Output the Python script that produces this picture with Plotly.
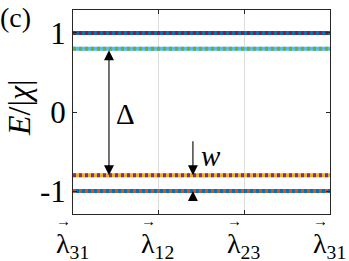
import plotly.graph_objects as go

# Data
k_path = [0, 1, 2, 3]
tick_labels = ["λ<sub>31</sub>", "λ<sub>12</sub>", "λ<sub>23</sub>", "λ<sub>31</sub>"]
y_ticks = [-1, 0, 1]
y_tick_labels = ["-1", "0", "1"]
band1 = [1.0, 1.0, 1.0, 1.0]
band2 = [0.8, 0.8, 0.8, 0.8]
band3 = [-0.8, -0.8, -0.8, -0.8]
band4 = [-1.0, -1.0, -1.0, -1.0]

bands = [
    (band1, "#0072BD", "#A2142F"),
    (band2, "#4DBEEE", "#77AC30"),
    (band3, "#EDB120", "#7E2F8E"),
    (band4, "#0072BD", "#D95319"),
]

FONT = "Liberation Serif"
fig = go.Figure()
for vals, c1, c2 in bands:
    fig.add_trace(go.Scatter(x=k_path, y=vals, mode="lines",
                             line=dict(color=c1, width=4), showlegend=False))
    fig.add_trace(go.Scatter(x=k_path, y=vals, mode="lines",
                             line=dict(color=c2, width=4, dash="3px,3px"), showlegend=False))

axcol = "#262626"
fig.update_layout(
    width=349, height=261,
    margin=dict(l=73, r=19, t=10, b=47),
    paper_bgcolor="white", plot_bgcolor="white",
    font=dict(family=FONT, size=28, color="black"),
    xaxis=dict(range=[0, 3], tickvals=k_path, showticklabels=False,
               showgrid=True, gridcolor="#dedede", gridwidth=1,
               showline=True, linecolor=axcol, linewidth=1, mirror="ticks",
               ticks="inside", ticklen=4, tickcolor=axcol, zeroline=False),
    yaxis=dict(range=[-1.29, 1.29], tickvals=y_ticks, ticktext=y_tick_labels,
               showgrid=False, showline=True, linecolor=axcol, linewidth=1,
               mirror="ticks", ticks="inside", ticklen=4, tickcolor=axcol,
               zeroline=False, tickfont=dict(family=FONT, size=31)),
)

# x tick labels with vector arrows
for xv, lab in zip(k_path, tick_labels):
    fig.add_annotation(x=xv, y=-0.058, xref="x", yref="paper", xshift=-1,
                       text=lab, showarrow=False, xanchor="center", yanchor="top",
                       font=dict(family=FONT, size=28))
    fig.add_annotation(x=xv, y=-0.036, xref="x", yref="paper", xshift=-10,
                       text="→", showarrow=False, yanchor="middle",
                       font=dict(family=FONT, size=15))

# y-axis title
fig.add_annotation(x=-0.21, y=0.52, xref="paper", yref="paper", textangle=-90,
                   xanchor="center", yanchor="middle",
                   text="<i>E</i>/|<i>χ</i>|", showarrow=False,
                   font=dict(family=FONT, size=32))

# Delta double arrow
fig.add_annotation(x=0.42, y=-0.8, ax=0.42, ay=0.8, xref="x", yref="y",
                   axref="x", ayref="y", showarrow=True, arrowhead=2,
                   arrowside="end+start", arrowsize=1.8, arrowwidth=1.1,
                   arrowcolor="black", text="")
fig.add_annotation(x=0.61, y=-0.02, xref="x", yref="y", text="Δ", showarrow=False,
                   font=dict(family=FONT, size=29))
# w arrows
fig.add_annotation(x=1.4, y=-0.8, ax=1.4, ay=-0.35, xref="x", yref="y",
                   axref="x", ayref="y", showarrow=True, arrowhead=2,
                   arrowsize=1.8, arrowwidth=1.1, arrowcolor="black", text="")
fig.add_annotation(x=1.4, y=-1.0, ax=1.4, ay=-1.14, xref="x", yref="y",
                   axref="x", ayref="y", showarrow=True, arrowhead=2,
                   arrowsize=1.8, arrowwidth=1.1, arrowcolor="black", text="")
fig.add_annotation(x=1.61, y=-0.56, xref="x", yref="y", text="<i>w</i>", showarrow=False,
                   font=dict(family=FONT, size=29))
# panel label
fig.add_annotation(x=-0.29, y=1.05, xref="paper", yref="paper", xanchor="left", yanchor="top",
                   text="(c)", showarrow=False, font=dict(family=FONT, size=28))
fig.write_html("out.html", config={"displayModeBar": False},
               post_script="document.body.style.margin='0';")
